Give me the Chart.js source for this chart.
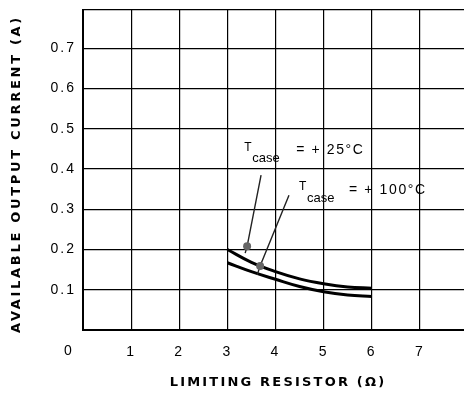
<!DOCTYPE html>
<html>
<head>
<meta charset="utf-8">
<script src="https://cdn.jsdelivr.net/npm/chart.js@4"></script>
<style>
html,body{margin:0;padding:0;background:#fff;overflow:hidden;width:464px;height:400px;}
canvas{display:block;}
</style>
</head>
<body>
<canvas id="c" width="482" height="400"></canvas>
<script>
// ---- data ----
const resistance = [3, 3.5, 4, 4.5, 5, 5.5, 6];          // ohms
const current25  = [0.200, 0.168, 0.145, 0.127, 0.115, 0.107, 0.104]; // A, Tcase=+25°C
const current100 = [0.167, 0.145, 0.126, 0.108, 0.095, 0.087, 0.083]; // A, Tcase=+100°C
const xTickValues = [1, 2, 3, 4, 5, 6, 7];
const yTickValues = [0.1, 0.2, 0.3, 0.4, 0.5, 0.6, 0.7];
const xTitle = 'LIMITING RESISTOR (\u03A9)';
const yTitle = 'AVAILABLE OUTPUT CURRENT (A)';
const label25 = ['T', 'case', '= + 25\u00B0C'];
const label100 = ['T', 'case', '= + 100\u00B0C'];

const pts = (xs, ys) => xs.map((x, i) => ({x: x, y: ys[i]}));

const annotate = {
  id: 'annotate',
  beforeDraw(chart) {
    chart.ctx.letterSpacing = '2px';
  },
  afterDatasetsDraw(chart) {
    const ctx = chart.ctx, xs = chart.scales.x, ys = chart.scales.y;
    const P = (x, y) => [xs.getPixelForValue(x), ys.getPixelForValue(y)];
    ctx.save();
    ctx.strokeStyle = '#222';
    ctx.lineWidth = 1.4;
    const leaders = [
      [[3.70, 0.385], [3.41, 0.208], [3.37, 0.191]],
      [[4.28, 0.335], [3.68, 0.159], [3.62, 0.137]]
    ];
    leaders.forEach(l => {
      ctx.beginPath();
      l.forEach((p, i) => { const q = P(p[0], p[1]); i ? ctx.lineTo(q[0], q[1]) : ctx.moveTo(q[0], q[1]); });
      ctx.stroke();
      const d = P(l[1][0], l[1][1]);
      ctx.fillStyle = '#666';
      ctx.beginPath(); ctx.arc(d[0], d[1], 4, 0, Math.PI * 2); ctx.fill();
    });
    ctx.fillStyle = '#000';
    ctx.textBaseline = 'middle';
    ctx.textAlign = 'left';
    const drawLabel = (lab, x, y, gap) => {
      const p = P(x, y);
      ctx.letterSpacing = '0px';
      ctx.font = '12px "Liberation Sans", Arial, sans-serif';
      ctx.fillText(lab[0], p[0], p[1]);
      ctx.font = '13px "Liberation Sans", Arial, sans-serif';
      ctx.fillText(lab[1], p[0] + 8, p[1] + 11);
      ctx.font = '14px "Liberation Sans", Arial, sans-serif';
      ctx.letterSpacing = '1.6px';
      ctx.fillText(lab[2], p[0] + gap, p[1] + 3);
    };
    drawLabel(label25, 3.35, 0.454, 52);
    drawLabel(label100, 4.49, 0.355, 50);
    ctx.restore();
  },
  afterDraw(chart) {
    const ctx = chart.ctx, a = chart.chartArea;
    ctx.save();
    ctx.fillStyle = '#000';
    ctx.textAlign = 'center';
    ctx.textBaseline = 'middle';
    ctx.font = '14px "Liberation Sans", Arial, sans-serif';
    ctx.letterSpacing = '0px';
    ctx.fillText('0', a.left - 15, a.bottom + 21);
    ctx.font = 'bold 13px "DejaVu Sans", sans-serif';
    ctx.letterSpacing = '2.2px';
    ctx.fillText(xTitle, 278, a.bottom + 53);
    ctx.letterSpacing = '2.7px';
    ctx.translate(17, (a.top + a.bottom) / 2 + 4);
    ctx.rotate(-Math.PI / 2);
    ctx.fillText(yTitle, 0, 0);
    ctx.restore();
  }
};

new Chart(document.getElementById('c'), {
  type: 'scatter',
  data: {
    datasets: [
      { label: 'Tcase = +25°C', data: pts(resistance, current25), showLine: true,
        borderColor: '#000', borderWidth: 3, pointRadius: 0, tension: 0.4, fill: false },
      { label: 'Tcase = +100°C', data: pts(resistance, current100), showLine: true,
        borderColor: '#000', borderWidth: 3, pointRadius: 0, tension: 0.4, fill: false }
    ]
  },
  options: {
    responsive: false,
    animation: false,
    devicePixelRatio: 1,
    layout: { padding: { top: 10, right: 2, left: 0, bottom: 0 } },
    plugins: { legend: { display: false }, tooltip: { enabled: false }, title: { display: false } },
    scales: {
      x: {
        type: 'linear', min: 0, max: 8,
        afterBuildTicks: s => { s.ticks = [0].concat(xTickValues, [8]).map(v => ({value: v})); },
        afterFit: s => { s.height = 70; },
        grid: { color: '#000', lineWidth: 1.2, drawTicks: false },
        border: { color: '#000', width: 2 },
        ticks: {
          padding: 14, color: '#000',
          font: { family: '"Liberation Sans", Arial, sans-serif', size: 14 },
          callback: v => xTickValues.includes(v) ? String(v) : ''
        }
      },
      y: {
        type: 'linear', min: 0, max: 0.795,
        afterBuildTicks: s => { s.ticks = [0].concat(yTickValues, [0.795]).map(v => ({value: v})); },
        afterFit: s => { s.width = 83; s.paddingTop = 0; s.paddingBottom = 0; },
        grid: { color: '#000', lineWidth: 1.2, drawTicks: false },
        border: { color: '#000', width: 2 },
        ticks: {
          padding: 7, color: '#000',
          font: { family: '"Liberation Sans", Arial, sans-serif', size: 14 },
          callback: v => yTickValues.some(t => Math.abs(t - v) < 1e-9) ? v.toFixed(1) : ''
        }
      }
    }
  },
  plugins: [annotate]
});
</script>
</body>
</html>
